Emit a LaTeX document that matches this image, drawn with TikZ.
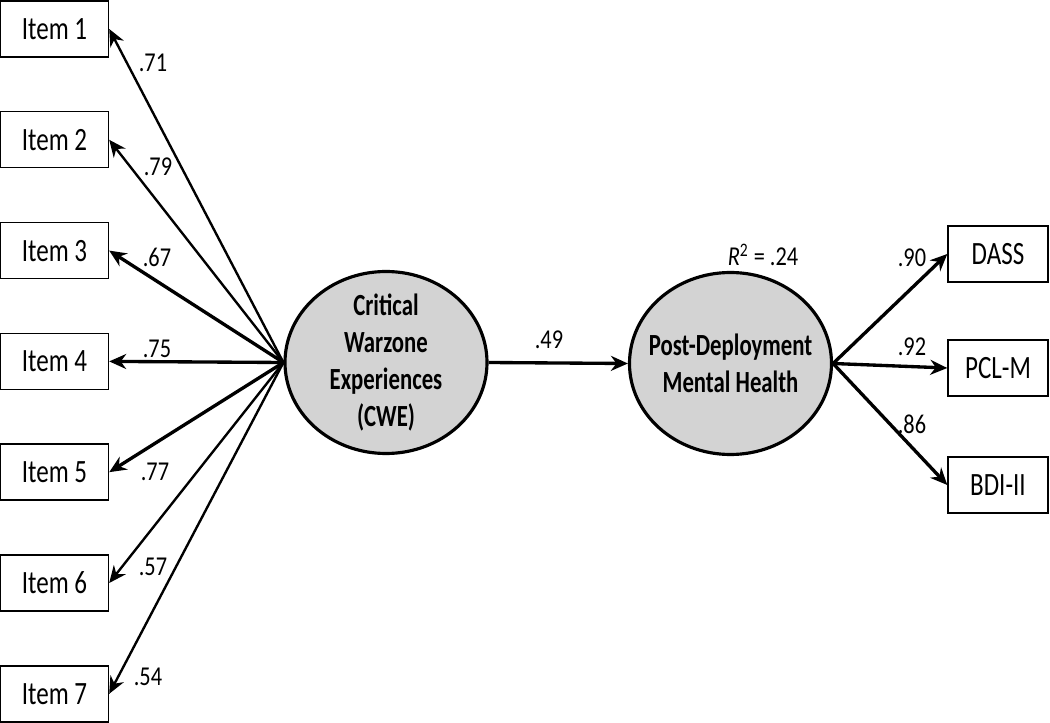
\documentclass[tikz,border=0pt]{standalone}
\usepackage{fontspec}
\setmainfont[FakeStretch=0.82]{Carlito}
\newfontfamily\itemfont[FakeStretch=0.77]{Carlito}
\newfontfamily\latentfont[FakeStretch=0.74]{Carlito}
\usetikzlibrary{arrows.meta}
\usetikzlibrary{shapes}
\definecolor{latentgray}{RGB}{211,211,211}

\begin{document}
\begin{tikzpicture}[x=0.2mm, y=-0.2mm, >={Stealth[length=3.4mm, width=3mm]},
item/.style={draw, line width=.8pt, minimum width=21.6mm, minimum height=11.2mm, inner sep=0pt, font=\itemfont\fontsize{18.5}{20}\selectfont},
outcome/.style={item, minimum width=20mm},
latent/.style={draw, ellipse, line width=1.8pt, fill=latentgray, minimum width=40.4mm, minimum height=36.4mm, inner sep=-8mm, align=center, font=\latentfont\bfseries\fontsize{17.5}{21}\selectfont},
coef/.style={inner sep=0pt, font=\fontsize{15.5}{18}\selectfont},
loading/.style={->, line width=1.9pt},
thinloading/.style={->, line width=1.35pt}]

\useasboundingbox (0,0) rectangle (1050,723);

%%%%%% LATENT VARIABLES %%%%%%%%%%

\node [latent] (cwe) at (386,362.5) {Critical\\Warzone\\Experiences\\(CWE)};
\node [latent] (pdmh) at (730.5,363.5) {Post-Deployment\\Mental Health};

\draw [loading] (cwe.east) -- (pdmh.west);
\node [coef] (b1) at (549,340) {.49};
\node [coef] (r2) at (763,255) {{\itshape R}\textsuperscript{2} = .24};

%%%%%% CWE ITEMS %%%%%%%%%%

\foreach \i/\load/\lx/\ly/\lw in {1/.71/153/63/thinloading, 2/.79/158/167/thinloading, 3/.67/157/257/loading, 4/.75/157/349/loading, 5/.77/155/472/loading, 6/.57/153/567/thinloading, 7/.54/148/677/thinloading}{
\node [item] (item\i) at (54.5,{29+110.8*(\i-1)}) {Item \i};
\draw [\lw] (cwe.west) -- (item\i.east);
\node [coef] (l\i) at (\lx,\ly) {\load};
}

%%%%%% OUTCOMES %%%%%%%%%%

\foreach \name/\txt/\y/\load/\ly in {dass/DASS/254/.90/258, pcl/PCL-M/368/.92/347, bdi/BDI-II/485/.86/424}{
\node [outcome] (\name) at (998,\y) {\txt};
\draw [loading] (pdmh.east) -- (\name.west);
\node [coef] (l\name) at (912,\ly) {\load};
}

\end{tikzpicture}
\end{document}
